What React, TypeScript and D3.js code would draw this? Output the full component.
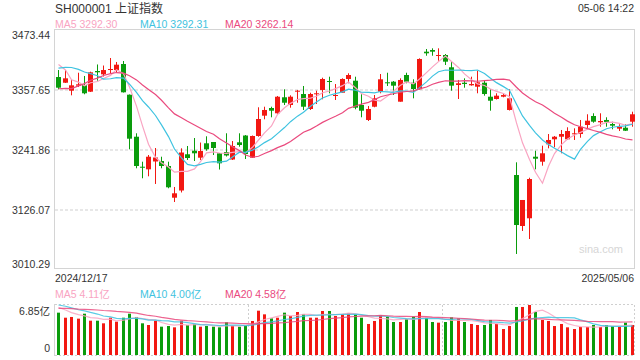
import React, { useEffect, useRef } from 'react';
import * as d3 from 'd3';

// header texts
const title = 'SH000001 上证指数';
const stamp = '05-06 14:22';
const firstDate = '2024/12/17';
const lastDate = '2025/05/06';

// axis labels
const priceTicks = [3473.44, 3357.65, 3241.86, 3126.07, 3010.29];
const volumeTopLabel = '6.85亿';
const volumeMax = 6.85;

// legends (values as shown)
const maNames = ['MA5', 'MA10', 'MA20'];
const maPeriods = [5, 10, 20];
const maPriceValues = ['3292.30', '3292.31', '3262.14'];
const maVolumeValues = ['4.11亿', '4.00亿', '4.58亿'];
const maColors = ['#f9a4c2', '#3fc3e0', '#ea4a7e'];

// daily candles, 2024/12/17 .. 2025/05/06
const opens = [
  3382.7, 3371.7, 3356.3, 3366.0, 3367.3, 3354.4, 3394.3, 3387.9, 3396.2, 3396.2,
  3407.8, 3348.6, 3267.5, 3209.6, 3204.6, 3219.7, 3220.6, 3211.0, 3149.8, 3163.7,
  3233.6, 3240.5, 3227.0, 3254.8, 3257.3, 3235.5, 3238.0, 3223.5, 3256.7, 3269.8,
  3227.0, 3268.9, 3308.1, 3322.9, 3312.7, 3343.6, 3328.7, 3354.4, 3349.9, 3321.0,
  3349.4, 3357.7, 3375.0, 3346.1, 3352.4, 3378.9, 3375.6, 3328.7, 3299.8, 3325.4,
  3354.4, 3372.5, 3373.7, 3335.1, 3386.6, 3371.7, 3359.0, 3431.6, 3434.8, 3423.3,
  3425.2, 3401.5, 3367.3, 3371.7, 3366.7, 3364.0, 3371.7, 3344.7, 3340.3, 3344.7,
  3319.1, 3193.6, 3095.2, 3110.1, 3228.9, 3219.3, 3252.9, 3262.5, 3267.5, 3262.5,
  3272.2, 3272.7, 3290.1, 3307.5, 3295.3, 3299.8, 3292.0, 3283.0, 3284.9, 3296.5,
];
const highs = [
  3396.2, 3396.2, 3377.0, 3391.0, 3384.7, 3393.0, 3406.9, 3404.9, 3419.4, 3411.7,
  3413.6, 3349.0, 3274.1, 3219.3, 3232.2, 3245.7, 3228.9, 3219.3, 3170.5, 3245.1,
  3249.6, 3265.0, 3256.3, 3268.3, 3257.3, 3236.1, 3274.1, 3259.2, 3274.1, 3270.8,
  3269.8, 3324.3, 3325.4, 3325.4, 3346.1, 3359.0, 3347.4, 3357.7, 3365.4, 3352.4,
  3356.3, 3381.4, 3383.3, 3369.2, 3380.2, 3389.9, 3383.3, 3349.4, 3326.8, 3348.0,
  3388.5, 3391.0, 3375.0, 3380.2, 3391.0, 3378.3, 3418.8, 3436.8, 3438.1, 3438.1,
  3427.1, 3412.3, 3377.0, 3380.2, 3383.3, 3394.9, 3377.0, 3359.0, 3351.3, 3349.9,
  3359.0, 3218.1, 3145.4, 3188.4, 3240.5, 3250.2, 3272.7, 3268.9, 3280.5, 3285.7,
  3283.7, 3299.8, 3310.8, 3312.7, 3312.7, 3305.0, 3296.5, 3291.5, 3291.5, 3315.8,
];
const lows = [
  3359.0, 3371.2, 3347.4, 3363.4, 3349.4, 3353.8, 3375.6, 3383.7, 3388.5, 3392.4,
  3352.8, 3243.2, 3206.6, 3187.3, 3191.1, 3176.3, 3206.6, 3168.0, 3141.5, 3159.9,
  3222.6, 3220.6, 3222.6, 3240.5, 3232.2, 3204.2, 3229.3, 3222.6, 3248.2, 3224.5,
  3226.4, 3267.5, 3301.1, 3305.0, 3311.3, 3328.7, 3323.5, 3333.1, 3319.1, 3319.1,
  3330.6, 3339.7, 3351.3, 3338.4, 3352.4, 3370.6, 3320.4, 3305.0, 3297.8, 3324.3,
  3351.3, 3365.4, 3348.0, 3335.1, 3370.6, 3341.6, 3358.6, 3423.8, 3423.8, 3414.2,
  3405.9, 3356.3, 3340.3, 3362.1, 3366.0, 3351.3, 3346.7, 3317.7, 3339.3, 3343.6,
  3318.1, 3041.2, 3085.6, 3070.1, 3204.6, 3211.6, 3245.1, 3247.1, 3235.5, 3261.2,
  3261.2, 3265.6, 3283.7, 3294.5, 3286.8, 3286.8, 3281.8, 3278.5, 3278.5, 3286.8,
];
const closes = [
  3362.1, 3380.2, 3366.7, 3368.6, 3351.3, 3391.8, 3391.8, 3396.2, 3398.2, 3406.5,
  3353.2, 3263.7, 3211.0, 3207.7, 3228.9, 3227.4, 3211.0, 3169.9, 3158.3, 3237.0,
  3226.4, 3235.5, 3239.9, 3243.2, 3245.7, 3216.2, 3231.3, 3249.6, 3251.5, 3234.1,
  3268.9, 3301.7, 3319.1, 3317.7, 3344.7, 3333.1, 3344.7, 3356.3, 3325.4, 3349.9,
  3351.3, 3378.9, 3373.1, 3348.0, 3378.9, 3386.6, 3323.5, 3317.7, 3321.0, 3341.6,
  3378.3, 3370.6, 3366.0, 3377.0, 3373.7, 3359.6, 3417.5, 3428.5, 3431.6, 3425.2,
  3412.3, 3366.0, 3370.6, 3369.2, 3369.2, 3372.5, 3349.9, 3337.0, 3346.7, 3348.0,
  3341.6, 3097.1, 3145.4, 3185.9, 3225.1, 3235.5, 3261.2, 3267.5, 3272.7, 3278.5,
  3274.1, 3286.8, 3298.4, 3296.5, 3297.8, 3296.0, 3288.8, 3286.8, 3279.1, 3310.8,
];
// volume, 亿
const volumes = [
  5.80, 5.11, 5.21, 4.98, 5.66, 4.70, 4.70, 4.34, 5.11, 4.57,
  5.11, 5.66, 5.21, 4.34, 4.11, 4.70, 3.88, 3.97, 3.79, 4.70,
  4.11, 4.25, 3.88, 3.97, 3.88, 3.79, 4.48, 3.97, 3.88, 4.11,
  4.66, 6.07, 5.57, 5.02, 5.11, 5.80, 5.34, 5.89, 5.62, 5.11,
  5.11, 6.03, 6.03, 5.34, 5.57, 5.71, 5.57, 5.11, 4.25, 4.66,
  5.43, 5.25, 4.52, 4.52, 4.93, 5.25, 5.89, 5.11, 4.52, 4.43,
  4.52, 5.16, 5.02, 4.52, 4.25, 4.11, 4.11, 4.80, 4.25, 3.56,
  3.97, 6.58, 6.58, 6.85, 5.89, 4.80, 4.66, 3.97, 4.25, 3.79,
  3.56, 3.84, 3.84, 4.11, 3.84, 4.11, 3.97, 3.84, 4.43, 4.11,
];

// the 19 sessions before the window, needed for the moving averages at the left edge
const priorCloses = [
  3367.99, 3370.40, 3267.19, 3263.76, 3259.76, 3309.78, 3295.70, 3326.46, 3363.98, 3378.81,
  3364.65, 3368.86, 3404.08, 3402.53, 3422.66, 3432.49, 3461.50, 3391.88, 3386.33,
];
const priorVolumes = [
  5.6, 5.9, 6.3, 6.0, 5.7, 5.5, 5.8, 6.2, 6.1, 6.4,
  6.8, 7.4, 7.6, 7.2, 6.85, 6.9, 7.0, 6.4, 6.55,
];

const RED = '#f21812';
const GREEN = '#0a9c0c';
const FONT = 'Arial, "Liberation Sans", "Noto Sans CJK SC", sans-serif';

function movingAverage(prior: number[], values: number[], n: number) {
  const all = prior.concat(values);
  return values.map((_, i) => {
    const end = i + prior.length + 1;
    return d3.mean(all.slice(end - n, end)) as number;
  });
}

export default function App() {
  const ref = useRef<SVGSVGElement>(null);

  useEffect(() => {
    const svg = d3.select(ref.current);
    svg.selectAll('*').remove();

    const n = closes.length;
    const left = 55, right = 635;
    const top = 30, bottom = 270;
    const vTop = 305, vBottom = 355;

    const x = d3.scaleBand<number>().domain(d3.range(n)).range([left, right]);
    const cx = (i: number) => Math.round((x(i) as number) + x.bandwidth() / 2) + 0.5;
    const y = d3.scaleLinear().domain([priceTicks[4], priceTicks[0]]).range([bottom, top]);
    const yv = d3.scaleLinear().domain([0, volumeMax]).range([vBottom, vTop]);

    const text = (tx: number, ty: number, s: string, opts: any = {}) =>
      svg.append('text')
        .attr('x', tx).attr('y', ty)
        .attr('font-family', FONT)
        .attr('font-size', opts.size || 10.5)
        .attr('fill', opts.fill || '#333')
        .attr('text-anchor', opts.anchor || 'start')
        .text(s);

    // header
    text(55, 12.5, title, { size: 12 });
    text(634, 12, stamp, { anchor: 'end' });
    const legendX = [55, 140, 225];
    maNames.forEach((m, k) => text(legendX[k], 27.5, m + ' ' + maPriceValues[k], { fill: maColors[k] }));

    // price grid
    priceTicks.slice(1, 4).forEach(t => {
      svg.append('line')
        .attr('x1', left).attr('x2', right - 1)
        .attr('y1', Math.round(y(t))).attr('y2', Math.round(y(t)))
        .attr('stroke', '#cfcfcf').attr('stroke-dasharray', '3,2');
    });
    svg.append('rect')
      .attr('x', left - 0.5).attr('y', top - 0.5)
      .attr('width', right - left).attr('height', bottom - top - 1)
      .attr('fill', 'none').attr('stroke', '#d4d4d4');

    // price labels
    priceTicks.forEach((t, k) => {
      let ty = y(t) + 3.5;
      if (k === 0) ty = top + 8.5;
      if (k === priceTicks.length - 1) ty = bottom - 2.5;
      text(50, ty, t.toFixed(2), { anchor: 'end' });
    });

    text(623, 253, 'sina.com', { size: 11, fill: '#d6d6d6', anchor: 'end' });

    // candles
    const candles = svg.append('g');
    closes.forEach((c, i) => {
      const o = opens[i];
      const col = c >= o ? RED : GREEN;
      candles.append('line')
        .attr('x1', cx(i)).attr('x2', cx(i))
        .attr('y1', y(highs[i])).attr('y2', y(lows[i]))
        .attr('stroke', col).attr('stroke-width', 1);
      const y0 = y(Math.max(o, c)), y1 = y(Math.min(o, c));
      candles.append('rect')
        .attr('x', cx(i) - 2.5).attr('y', y0)
        .attr('width', 5).attr('height', Math.max(1, y1 - y0))
        .attr('fill', col);
    });

    // price moving averages
    svg.append('clipPath').attr('id', 'clip-price')
      .append('rect').attr('x', left).attr('y', top).attr('width', right - left).attr('height', bottom - top);
    const priceLine = d3.line<number>().x((_, i) => cx(i)).y(d => y(d));
    maPeriods.forEach((p, k) => {
      svg.append('path')
        .datum(movingAverage(priorCloses, closes, p))
        .attr('clip-path', 'url(#clip-price)')
        .attr('fill', 'none')
        .attr('stroke', maColors[k])
        .attr('stroke-width', 1.2)
        .attr('d', priceLine);
    });

    // dates
    text(55, 281.5, firstDate);
    text(634, 281.5, lastDate, { anchor: 'end' });

    // volume legend
    maNames.forEach((m, k) => text(legendX[k], 298, m + ' ' + maVolumeValues[k], { fill: maColors[k] }));

    // volume frame
    const dotted = (x1: number, y1: number, x2: number, y2: number) =>
      svg.append('line')
        .attr('x1', x1).attr('y1', y1).attr('x2', x2).attr('y2', y2)
        .attr('stroke', '#cfcfcf').attr('stroke-dasharray', '2,2');
    dotted(left, vTop - 0.5, right - 1, vTop - 0.5);
    dotted(right - 0.5, vTop, right - 0.5, vBottom);
    [1, 2].forEach(k => {
      const vx = Math.round(left + (right - left) * k / 3) + 0.5;
      dotted(vx, vTop, vx, vBottom);
    });
    svg.append('line')
      .attr('x1', left - 0.5).attr('x2', left - 0.5)
      .attr('y1', vTop - 1).attr('y2', vBottom + 1)
      .attr('stroke', '#d4d4d4');
    dotted(left, vBottom + 0.5, right - 1, vBottom + 0.5);

    text(50, 315, volumeTopLabel, { anchor: 'end' });
    text(50, 352, '0', { anchor: 'end' });

    // volume bars
    const bars = svg.append('g');
    volumes.forEach((v, i) => {
      bars.append('rect')
        .attr('x', cx(i) - 1.5).attr('y', yv(v))
        .attr('width', 3).attr('height', vBottom - yv(v))
        .attr('fill', closes[i] >= opens[i] ? RED : GREEN);
    });

    // volume moving averages
    svg.append('clipPath').attr('id', 'clip-vol')
      .append('rect').attr('x', left).attr('y', vTop - 2).attr('width', right - left).attr('height', vBottom - vTop + 2);
    const volLine = d3.line<number>().x((_, i) => cx(i)).y(d => yv(d));
    maPeriods.forEach((p, k) => {
      svg.append('path')
        .datum(movingAverage(priorVolumes, volumes, p))
        .attr('clip-path', 'url(#clip-vol)')
        .attr('fill', 'none')
        .attr('stroke', maColors[k])
        .attr('stroke-opacity', 0.85)
        .attr('stroke-width', 1.2)
        .attr('d', volLine);
    });
  }, []);

  return (
    <svg
      ref={ref}
      width={640}
      height={360}
      style={{ position: 'absolute', left: 0, top: 0, background: '#fff' }}
    />
  );
}
